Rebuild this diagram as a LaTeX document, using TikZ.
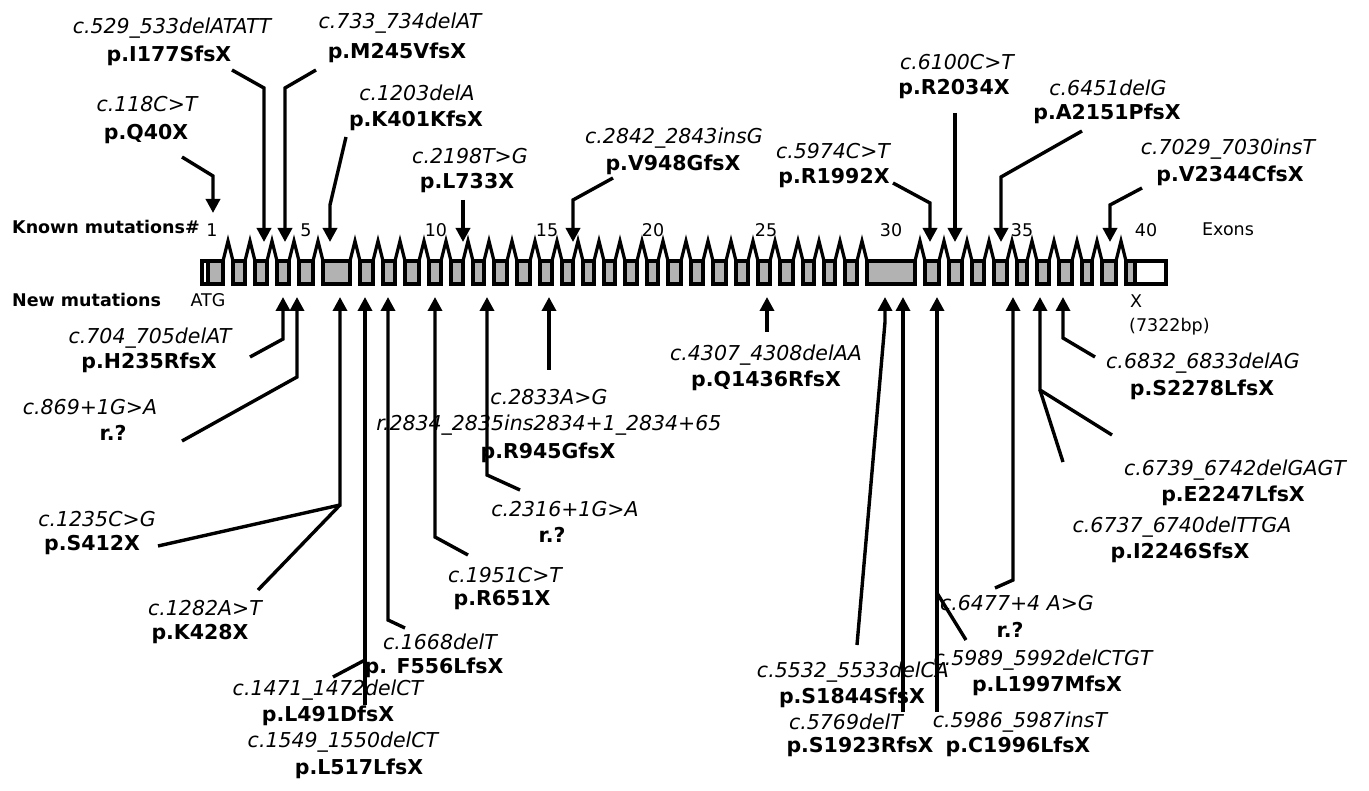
\documentclass[tikz,border=0pt]{standalone}
\usepackage{fontspec}
\setmainfont{DejaVu Sans}
\usetikzlibrary{arrows.meta}
\definecolor{exongray}{RGB}{178,178,178}
\begin{document}
\begin{tikzpicture}[x=1pt,y=-1pt,
  cl/.style={font=\fontsize{20.5}{24}\selectfont\itshape, inner sep=0pt},
  pl/.style={font=\fontsize{20.5}{24}\selectfont\bfseries, inner sep=0pt},
  rl/.style={font=\fontsize{17.5}{20}\selectfont, inner sep=0pt},
  hl/.style={font=\fontsize{17.5}{20}\selectfont\bfseries, inner sep=0pt},
  ln/.style={line width=3.4pt, line join=miter},
  arr/.style={line width=3.4pt, -{Triangle[length=14pt,width=14pt]}},
  exon/.style={draw, line width=3.2pt, fill=exongray},
  utr/.style={draw, line width=3.2pt, fill=white}]
\useasboundingbox (0,0) rectangle (1369,791);

% ---- gene structure ----
\foreach \p in {228,250,272,294,318,355,378,400,424,446,468,489,512,535,557,578,599,620,642,663,686,708,731,753,775,798,819,840,862,920,944,967,989,1012,1032,1054,1077,1097,1121}
  \draw[line width=3.2pt, line join=miter] (\p-5,261) -- (\p,241) -- (\p+5,261);
\draw[utr] (202,261) rectangle (208,284);
\draw[exon] (208,261) rectangle (223,284);
\foreach \a/\b in {233/245,255/267,277/289,299/313,323/350,360/373,383/395,405/419,429/441,451/463,473/484,494/507,517/530,540/552,562/573,583/594,604/615,625/637,647/658,668/681,691/703,713/726,736/748,758/770,780/793,803/814,824/835,845/857,867/915,925/939,949/962,972/984,994/1007,1017/1027,1037/1049,1059/1072,1082/1092,1102/1116}
  \draw[exon] (\a,261) rectangle (\b,284);
\draw[exon] (1126,261) rectangle (1135,284);
\draw[utr] (1135,261) rectangle (1166,284);

% ---- axis labels ----
\node[hl, anchor=west] (known) at (12,227) {Known mutations\#};
\node[hl, anchor=west] (new) at (12,300) {New mutations};
\node[rl] (e1) at (212,230) {1};
\node[rl] (e5) at (306,230) {5};
\node[rl] (e10) at (436,230) {10};
\node[rl] (e15) at (547,230) {15};
\node[rl] (e20) at (653,230) {20};
\node[rl] (e25) at (766,230) {25};
\node[rl] (e30) at (891,230) {30};
\node[rl] (e35) at (1022,230) {35};
\node[rl] (e40) at (1146,230) {40};
\node[rl] (exons) at (1228,229) {Exons};
\node[rl] (atg) at (208,300) {ATG};
\node[rl] (stop) at (1136,301) {X};
\node[rl, anchor=west] (len) at (1129,327) {(7322bp)};

% ---- known mutations (top) ----
\node[cl] (c118) at (147,104) {c.118C>T};
\node[pl] (q40) at (146,134) {p.Q40X};
\node[cl] (c529) at (172,28) {c.529\_533delATATT};
\node[pl] (i177) at (169,56) {p.I177SfsX};
\node[cl] (c733) at (400,23) {c.733\_734delAT};
\node[pl] (m245) at (397,53) {p.M245VfsX};
\node[cl] (c1203) at (417,93) {c.1203delA};
\node[pl] (k401) at (416,121) {p.K401KfsX};
\node[cl] (c2198) at (470,156) {c.2198T>G};
\node[pl] (l733) at (467,183) {p.L733X};
\node[cl] (c2842) at (674,138) {c.2842\_2843insG};
\node[pl] (v948) at (673,165) {p.V948GfsX};
\node[cl] (c5974) at (833,151) {c.5974C>T};
\node[pl] (r1992) at (834,178) {p.R1992X};
\node[cl] (c6100) at (957,62) {c.6100C>T};
\node[pl] (r2034) at (954,89) {p.R2034X};
\node[cl] (c6451) at (1108,88) {c.6451delG};
\node[pl] (a2151) at (1107,114) {p.A2151PfsX};
\node[cl] (c7029) at (1228,149) {c.7029\_7030insT};
\node[pl] (v2344) at (1230,176) {p.V2344CfsX};

\coordinate (k1s) at (182,157); \coordinate (k1b) at (213,176); \coordinate (k1t) at (213,213);
\coordinate (k2s) at (232,70);  \coordinate (k2b) at (264,88);  \coordinate (k2t) at (264,242);
\coordinate (k3s) at (316,70);  \coordinate (k3b) at (285,88);  \coordinate (k3t) at (285,242);
\coordinate (k4s) at (346,137); \coordinate (k4b) at (330,205); \coordinate (k4t) at (330,242);
\coordinate (k5s) at (463,200); \coordinate (k5t) at (463,242);
\coordinate (k6s) at (613,178); \coordinate (k6b) at (573,200); \coordinate (k6t) at (573,242);
\coordinate (k7s) at (893,183); \coordinate (k7b) at (930,203); \coordinate (k7t) at (930,242);
\coordinate (k8s) at (955,113); \coordinate (k8t) at (955,242);
\coordinate (k9s) at (1082,131); \coordinate (k9b) at (1001,177); \coordinate (k9t) at (1001,242);
\coordinate (k10s) at (1142,188); \coordinate (k10b) at (1110,205); \coordinate (k10t) at (1110,242);

\draw[arr] (k1s) -- (k1b) -- (k1t);
\draw[arr] (k2s) -- (k2b) -- (k2t);
\draw[arr] (k3s) -- (k3b) -- (k3t);
\draw[arr] (k4s) -- (k4b) -- (k4t);
\draw[arr] (k5s) -- (k5t);
\draw[arr] (k6s) -- (k6b) -- (k6t);
\draw[arr] (k7s) -- (k7b) -- (k7t);
\draw[arr] (k8s) -- (k8t);
\draw[arr] (k9s) -- (k9b) -- (k9t);
\draw[arr] (k10s) -- (k10b) -- (k10t);

% ---- new mutations (bottom) ----
\node[cl] (c704) at (150,338) {c.704\_705delAT};
\node[pl] (h235) at (149,363) {p.H235RfsX};
\node[cl] (c869) at (90,407) {c.869+1G>A};
\node[pl] (rq1) at (113,433) {r.?};
\node[cl] (c1235) at (97,519) {c.1235C>G};
\node[pl] (s412) at (92,545) {p.S412X};
\node[cl] (c1282) at (205,608) {c.1282A>T};
\node[pl] (k428) at (200,634) {p.K428X};
\node[cl] (c1471) at (328,690) {c.1471\_1472delCT};
\node[pl] (l491) at (328,716) {p.L491DfsX};
\node[cl] (c1549) at (343,742) {c.1549\_1550delCT};
\node[pl] (l517) at (359,769) {p.L517LfsX};
\node[cl] (c1668) at (440,642) {c.1668delT};
\node[pl] (f556) at (434,668) {p. F556LfsX};
\node[cl] (c1951) at (505,575) {c.1951C>T};
\node[pl] (r651) at (502,600) {p.R651X};
\node[cl] (c2316) at (565,509) {c.2316+1G>A};
\node[pl] (rq2) at (552,535) {r.?};
\node[cl] (c2833) at (549,397) {c.2833A>G};
\node[cl] (r2834) at (549,425) {r.2834\_2835ins2834+1\_2834+65};
\node[pl] (r945) at (548,453) {p.R945GfsX};
\node[cl] (c4307) at (766,355) {c.4307\_4308delAA};
\node[pl] (q1436) at (766,381) {p.Q1436RfsX};
\node[cl] (c5532) at (853,672) {c.5532\_5533delCA};
\node[pl] (s1844) at (852,698) {p.S1844SfsX};
\node[cl] (c5769) at (846,722) {c.5769delT};
\node[pl] (s1923) at (860,747) {p.S1923RfsX};
\node[cl] (c5989) at (1043,660) {c.5989\_5992delCTGT};
\node[pl] (l1997) at (1047,686) {p.L1997MfsX};
\node[cl] (c5986) at (1020,722) {c.5986\_5987insT};
\node[pl] (c1996) at (1018,747) {p.C1996LfsX};
\node[cl] (c6477) at (1017,603) {c.6477+4 A>G};
\node[pl] (rq3) at (1010,630) {r.?};
\node[cl] (c6737) at (1182,527) {c.6737\_6740delTTGA};
\node[pl] (i2246) at (1180,553) {p.I2246SfsX};
\node[cl] (c6739) at (1235,470) {c.6739\_6742delGAGT};
\node[pl] (e2247) at (1233,496) {p.E2247LfsX};
\node[cl] (c6832) at (1203,363) {c.6832\_6833delAG};
\node[pl] (s2278) at (1202,390) {p.S2278LfsX};

\coordinate (n1s) at (250,357); \coordinate (n1b) at (283,339); \coordinate (n1t) at (283,297);
\coordinate (n2s) at (182,441); \coordinate (n2b) at (297,377); \coordinate (n2t) at (297,297);
\coordinate (n3s) at (158,546); \coordinate (n3b) at (340,505); \coordinate (n3t) at (340,297);
\coordinate (n4s) at (258,590);
\coordinate (n5s) at (333,677); \coordinate (n5b) at (365,660);
\coordinate (n6s) at (365,705); \coordinate (n6t) at (365,297);
\coordinate (n7s) at (405,628); \coordinate (n7b) at (388,620); \coordinate (n7t) at (388,297);
\coordinate (n8s) at (468,555); \coordinate (n8b) at (435,537); \coordinate (n8t) at (435,297);
\coordinate (n9s) at (520,490); \coordinate (n9b) at (487,475); \coordinate (n9t) at (487,297);
\coordinate (n10s) at (549,370); \coordinate (n10t) at (549,297);
\coordinate (n11s) at (767,332); \coordinate (n11t) at (767,297);
\coordinate (n12s) at (857,645); \coordinate (n12b) at (885,322); \coordinate (n12t) at (885,297);
\coordinate (n13s) at (903,712); \coordinate (n13t) at (903,297);
\coordinate (n14s) at (966,640); \coordinate (n14b) at (937,593);
\coordinate (n15s) at (937,712); \coordinate (n15t) at (937,297);
\coordinate (n16s) at (995,588); \coordinate (n16b) at (1013,580); \coordinate (n16t) at (1013,297);
\coordinate (n17s) at (1112,435); \coordinate (n17b) at (1040,390); \coordinate (n17t) at (1040,297);
\coordinate (n18s) at (1063,462);
\coordinate (n19s) at (1095,357); \coordinate (n19b) at (1063,338); \coordinate (n19t) at (1063,297);

\draw[arr] (n1s) -- (n1b) -- (n1t);
\draw[arr] (n2s) -- (n2b) -- (n2t);
\draw[arr] (n3s) -- (n3b) -- (n3t);
\draw[ln] (n4s) -- (n3b);
\draw[ln] (n5s) -- (n5b);
\draw[arr] (n6s) -- (n6t);
\draw[arr] (n7s) -- (n7b) -- (n7t);
\draw[arr] (n8s) -- (n8b) -- (n8t);
\draw[arr] (n9s) -- (n9b) -- (n9t);
\draw[arr] (n10s) -- (n10t);
\draw[arr] (n11s) -- (n11t);
\draw[arr] (n12s) -- (n12b) -- (n12t);
\draw[arr] (n13s) -- (n13t);
\draw[ln] (n14s) -- (n14b);
\draw[arr] (n15s) -- (n15t);
\draw[arr] (n16s) -- (n16b) -- (n16t);
\draw[arr] (n17s) -- (n17b) -- (n17t);
\draw[ln] (n18s) -- (n17b);
\draw[arr] (n19s) -- (n19b) -- (n19t);
\end{tikzpicture}
\end{document}
